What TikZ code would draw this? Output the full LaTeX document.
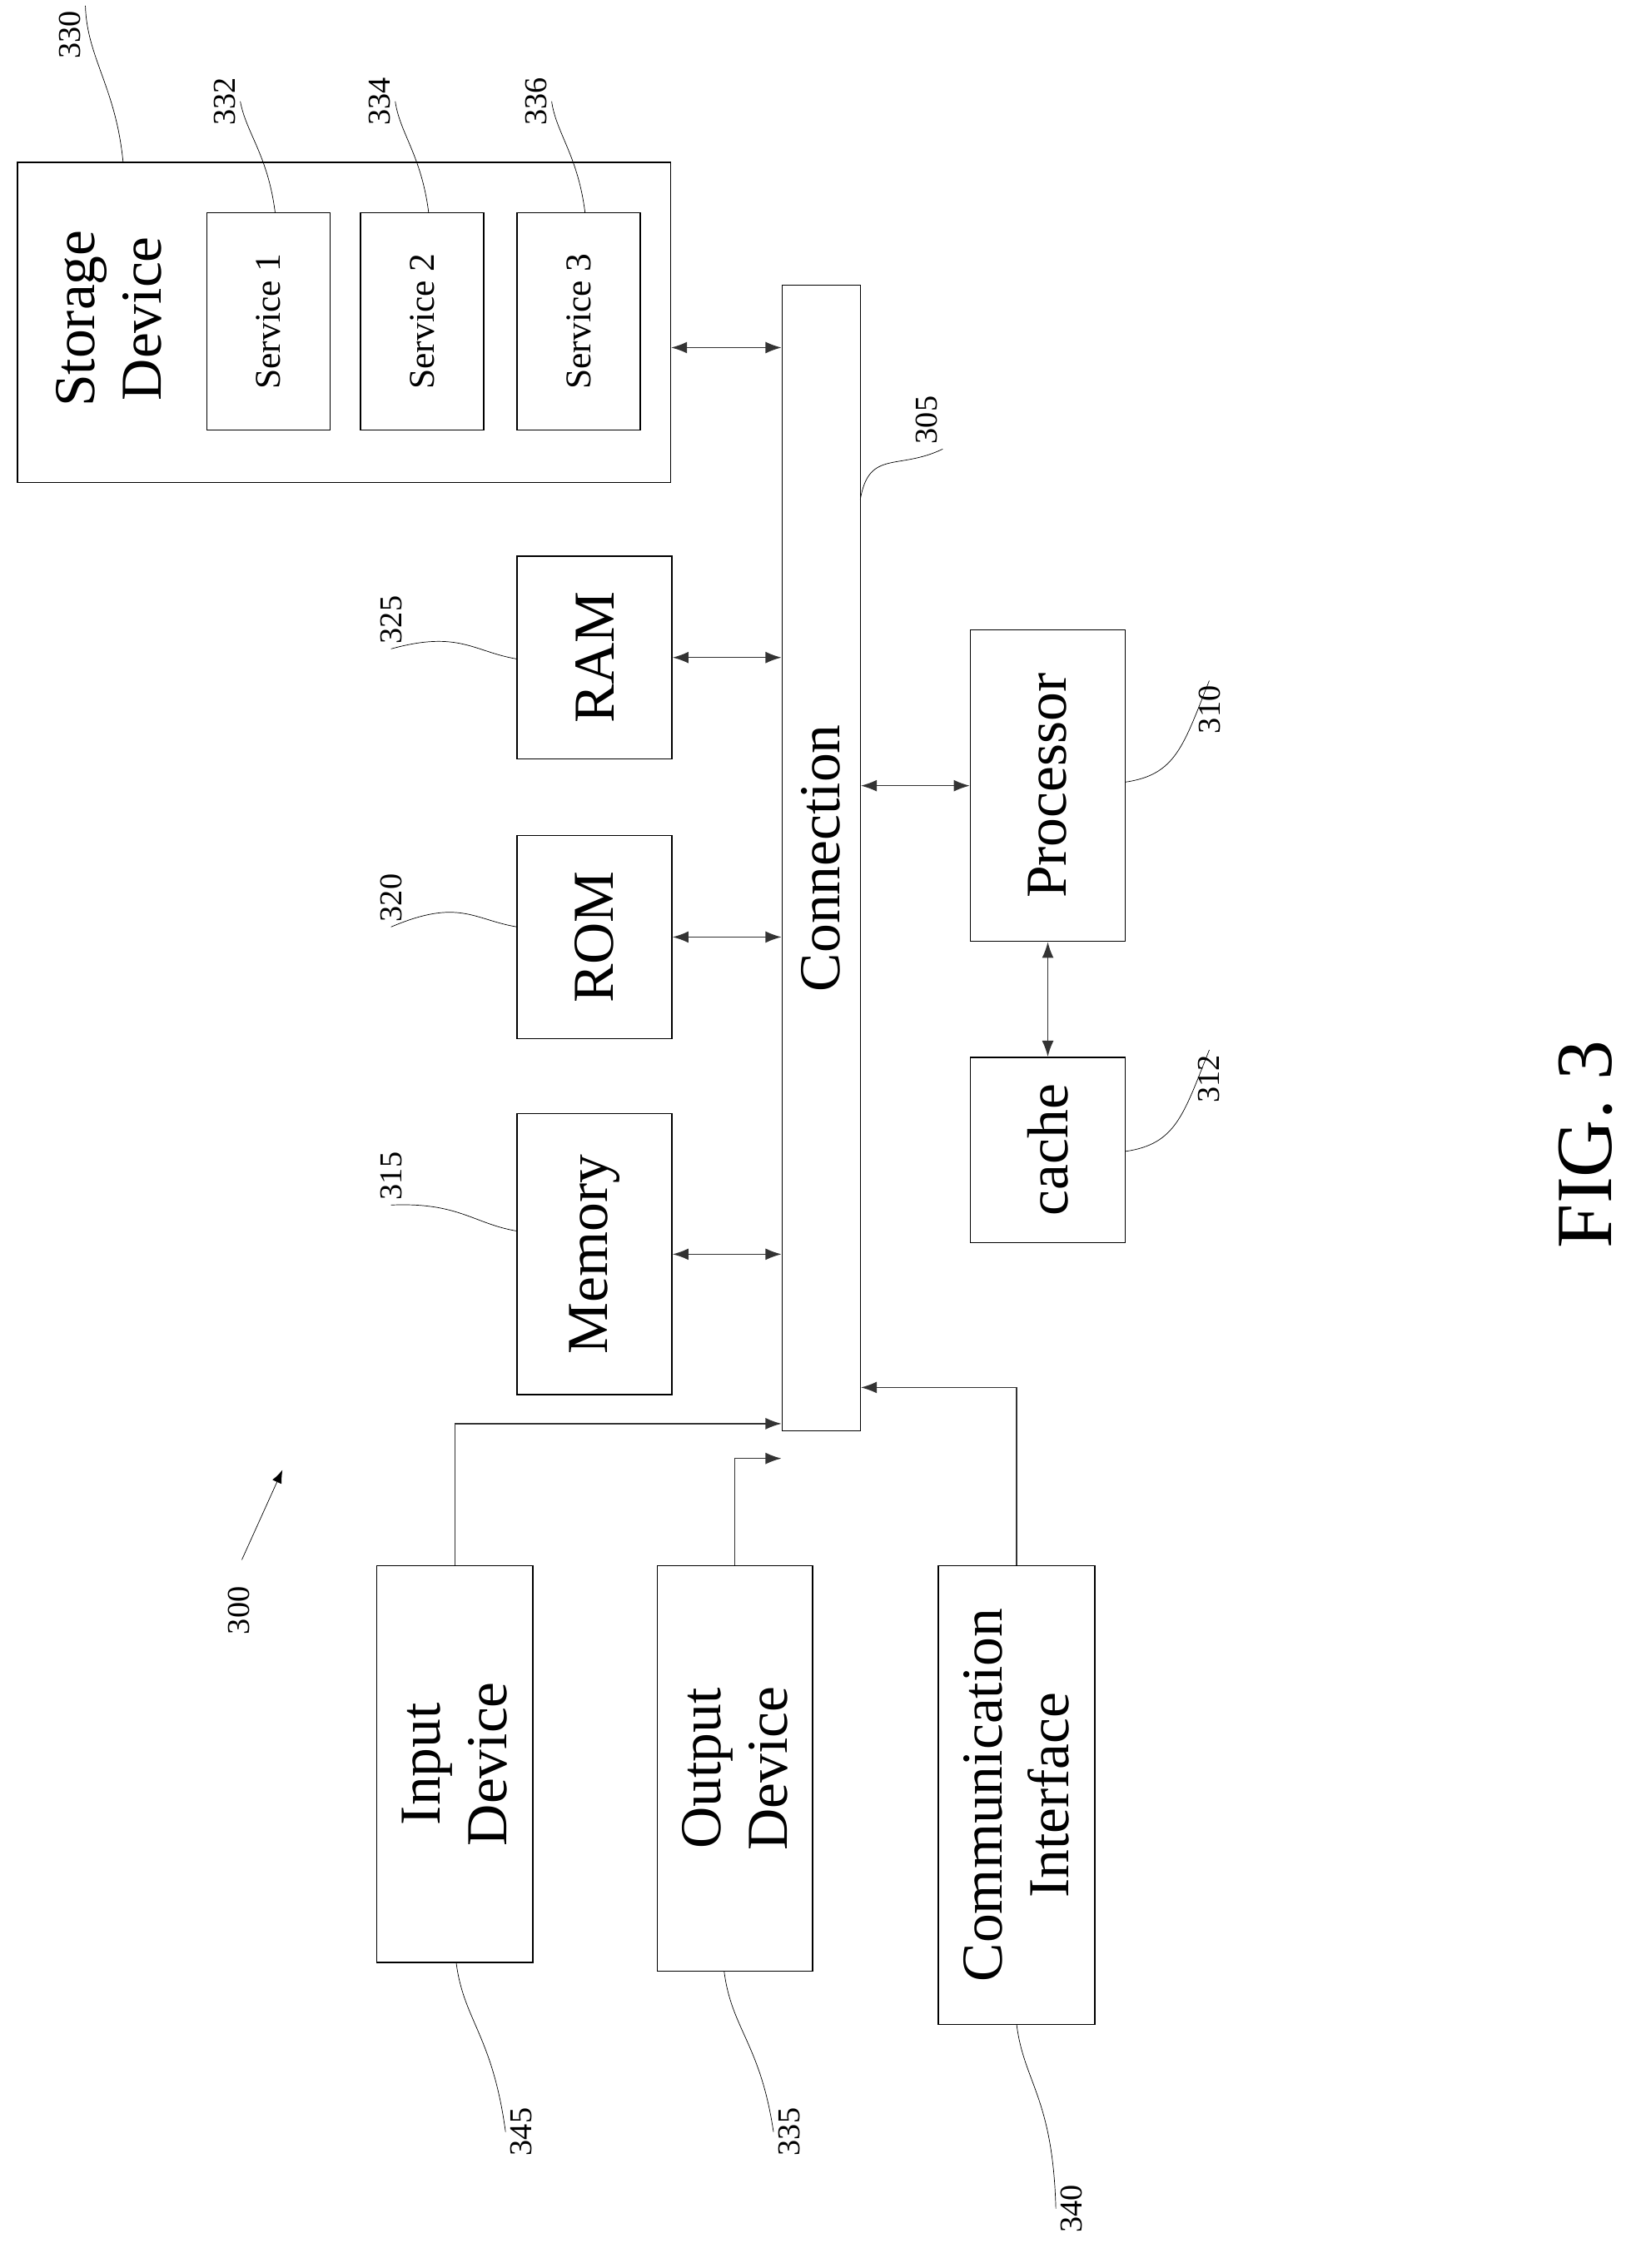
\documentclass[tikz,border=0pt]{standalone}
\usepackage{fontspec}
\setmainfont{Liberation Serif}
\usetikzlibrary{arrows.meta}
\tikzset{
  box/.style={draw, thick, fill=white, inner sep=0pt},
  txt/.style={rotate=90, align=center, font=\fontsize{40}{46}\selectfont},
  stxt/.style={rotate=90, font=\fontsize{25}{27}\selectfont},
  num/.style={rotate=90, font=\fontsize{22}{24}\selectfont},
  dbl/.style={{Latex[length=11pt,width=8pt]}-{Latex[length=11pt,width=8pt]}, thick, gray!40!black},
  one/.style={-{Latex[length=11pt,width=8pt]}, thick, gray!40!black},
  lead/.style={thin}
}
\begin{document}
\begin{tikzpicture}[x=1pt, y=-1pt]
  \useasboundingbox (0,0) rectangle (1140,1566);
  % storage device and services
  \node[box, minimum width=451pt, minimum height=221pt] (stor) at (237.5,222.5) {};
  \node[txt] (stortxt) at (75,220) {Storage\\Device};
  \foreach \nm/\cx/\k in {sa/185.5/1, sb/291.5/2, sc/399.5/3} {
    \node[box, minimum width=85pt, minimum height=150pt] (\nm) at (\cx,222) {};
    \node[stxt] (\nm txt) at (\nm) {Service \k};
  }
  % connection bus
  \node[box, minimum width=54pt, minimum height=791pt] (conn) at (567,592.5) {};
  \node[txt] (conntxt) at (conn) {Connection};
  % memories
  \node[box, minimum width=107pt, minimum height=140pt] (ram) at (410.5,454) {};
  \node[txt] (ramtxt) at (ram) {RAM};
  \node[box, minimum width=107pt, minimum height=140pt] (rom) at (410.5,647) {};
  \node[txt] (romtxt) at (rom) {ROM};
  \node[box, minimum width=107pt, minimum height=194pt] (mem) at (410.5,866) {};
  \node[txt] (memtxt) at (mem) {Memory};
  % processor and cache
  \node[box, minimum width=107pt, minimum height=215pt] (proc) at (723.5,542.5) {};
  \node[txt] (proctxt) at (proc) {Processor};
  \node[box, minimum width=107pt, minimum height=128pt] (cache) at (723.5,794) {};
  \node[txt] (cachetxt) at (cache) {cache};
  % devices
  \node[box, minimum width=108pt, minimum height=274pt] (inp) at (314,1218) {};
  \node[txt] (inptxt) at (inp) {Input\\Device};
  \node[box, minimum width=107pt, minimum height=280pt] (outp) at (507.5,1221) {};
  \node[txt] (outptxt) at (outp) {Output\\Device};
  \node[box, minimum width=108pt, minimum height=317pt] (comm) at (702,1239.5) {};
  \node[txt] (commtxt) at (comm) {Communication\\Interface};
  % connectors
  \draw[dbl] (stor.east |- 0,240) -- (conn.west |- 0,240);
  \draw[dbl] (ram.east) -- (conn.west |- ram.east);
  \draw[dbl] (rom.east) -- (conn.west |- rom.east);
  \draw[dbl] (mem.east) -- (conn.west |- mem.east);
  \draw[dbl] (conn.east |- proc.west) -- (proc.west);
  \draw[dbl] (proc.south) -- (cache.north);
  \draw[one] (inp.north) |- (conn.west |- 0,983);
  \draw[one] (outp.north) |- (conn.west |- 0,1007);
  \draw[one] (comm.north) |- (conn.east |- 0,958);
  % reference numerals
  \node[num] (n330) at (48,24) {330};
  \node[num] (n332) at (155,70) {332};
  \node[num] (n334) at (262,70) {334};
  \node[num] (n336) at (370,70) {336};
  \node[num] (n305) at (640,290) {305};
  \node[num] (n325) at (270,428) {325};
  \node[num] (n320) at (270,620) {320};
  \node[num] (n315) at (270,812) {315};
  \node[num] (n310) at (835,490) {310};
  \node[num] (n312) at (835,745) {312};
  \node[num] (n300) at (165,1112) {300};
  \node[num] (n345) at (360,1472) {345};
  \node[num] (n335) at (545,1472) {335};
  \node[num] (n340) at (740,1525) {340};
  \coordinate (c330) at (85,112);
  \coordinate (c332) at (190,147);
  \coordinate (c334) at (296,147);
  \coordinate (c336) at (404,147);
  \coordinate (c305) at (594,345);
  \coordinate (c325) at (357,455);
  \coordinate (c320) at (357,640);
  \coordinate (c315) at (357,850);
  \coordinate (c310) at (777,540);
  \coordinate (c312) at (777,795);
  \coordinate (c345) at (315,1355);
  \coordinate (c335) at (500,1361);
  \coordinate (c340) at (702,1398);
  \draw[lead] (c330) .. controls (80,60) and (60,40) .. (n330.south east);
  \foreach \k in {332,334,336}
    \draw[lead] (c\k) .. controls ([shift={(-5,-40)}]c\k) and ([shift={(-20,-55)}]c\k) .. (n\k.south);
  \draw[lead] (c305) .. controls (600,310) and (620,325) .. (n305.south west);
  \foreach \k in {325,320,315}
    \draw[lead] (c\k) .. controls ([shift={(-30,-5)}]c\k) and ([shift={(-40,-20)}]c\k) .. (n\k.west);
  \foreach \k in {310,312}
    \draw[lead] (c\k) .. controls ([shift={(35,-5)}]c\k) and ([shift={(40,-25)}]c\k) .. (n\k.east);
  \foreach \k in {345,335,340}
    \draw[lead] (c\k) .. controls ([shift={(5,40)}]c\k) and ([shift={(25,50)}]c\k) .. (n\k.north);
  \coordinate (a300) at (195,1015);
  \draw[-{Latex[length=9pt,width=7pt]}] (n300.east) ++(2,-15) -- (a300);
  \node[rotate=90, font=\fontsize{55}{57}\selectfont] (fig) at (1095,790) {FIG. 3};
\end{tikzpicture}
\end{document}
